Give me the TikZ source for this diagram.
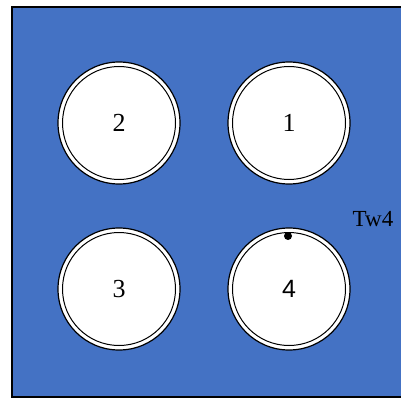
\documentclass[tikz,border=0pt]{standalone}
\usepackage{fontspec}
\setmainfont{Liberation Serif}
\newfontfamily\lsans{Liberation Sans}
\definecolor{panelblue}{HTML}{4472C4}
\begin{document}
\begin{tikzpicture}[x=1pt,y=-1pt,
  panel/.style={fill=panelblue,draw=black,line width=1.5pt},
  well/.style={circle,draw=black,fill=white,line width=1.2pt,minimum size=122pt,inner sep=0pt,
    font=\fontsize{26}{28}\selectfont},
  ring/.style={draw=black,line width=1pt},
  lbl/.style={font=\fontsize{23}{26}\selectfont,inner sep=0pt}]
\useasboundingbox (0,0) rectangle (401,398);
\begin{scope}
\clip (0,0) rectangle (401,398);
\draw[panel] (12,7) rectangle (410,397);
\end{scope}
\node[well] (w2) at (119,123) {2};
\node[well] (w1) at (289,123) {1};
\node[well] (w3) at (119,289) {3};
\node[well,font=\lsans\fontsize{25}{28}\selectfont] (w4) at (289,289) {4};
\foreach \w in {w1,w2,w3,w4} \draw[ring] (\w.center) circle (56.5pt);
\fill[black] (288,236) circle (4pt);
\node[lbl] (tw) at (373,219) {Tw4};
\end{tikzpicture}
\end{document}
